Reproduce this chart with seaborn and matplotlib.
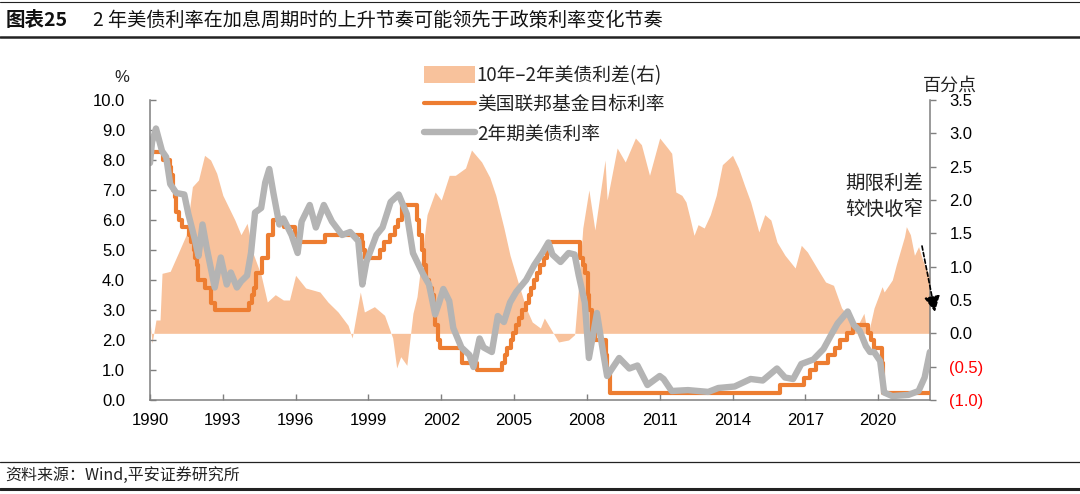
import matplotlib
matplotlib.use("Agg")
import matplotlib.pyplot as plt
import matplotlib.dates as mdates
from matplotlib.lines import Line2D
from matplotlib.patches import Patch
import matplotlib.ticker as mticker
import seaborn as sns
import pandas as pd

# ---------------- data ----------------
ff_dates = ["1990-01-01", "1990-07-13", "1990-10-29", "1990-11-13", "1990-12-07", "1991-01-09",
            "1991-02-01", "1991-03-08", "1991-04-30", "1991-08-06", "1991-09-13", "1991-10-31",
            "1991-11-06", "1991-12-06", "1991-12-20", "1992-04-09", "1992-07-02", "1992-09-04",
            "1994-02-04", "1994-03-22", "1994-04-18", "1994-05-17", "1994-08-16", "1994-11-15",
            "1995-02-01", "1995-07-06", "1995-12-19", "1996-01-31", "1997-03-25", "1998-09-29",
            "1998-10-15", "1998-11-17", "1999-06-30", "1999-08-24", "1999-11-16", "2000-02-02",
            "2000-03-21", "2000-05-16", "2001-01-03", "2001-01-31", "2001-03-20", "2001-04-18",
            "2001-05-15", "2001-06-27", "2001-08-21", "2001-09-17", "2001-10-02", "2001-11-06",
            "2001-12-11", "2002-11-06", "2003-06-25", "2004-06-30", "2004-08-10", "2004-09-21",
            "2004-11-10", "2004-12-14", "2005-02-02", "2005-03-22", "2005-05-03", "2005-06-30",
            "2005-08-09", "2005-09-20", "2005-11-01", "2005-12-13", "2006-01-31", "2006-03-28",
            "2006-05-10", "2006-06-29", "2007-09-18", "2007-10-31", "2007-12-11", "2008-01-22",
            "2008-01-30", "2008-03-18", "2008-04-30", "2008-10-08", "2008-10-29", "2008-12-16",
            "2015-12-16", "2016-12-14", "2017-03-15", "2017-06-14", "2017-12-13", "2018-03-21",
            "2018-06-13", "2018-09-26", "2018-12-19", "2019-07-31", "2019-09-18", "2019-10-30",
            "2020-03-03", "2020-03-15", "2022-02-18"]
ff_rate = [8.25, 8.00, 7.75, 7.50, 7.00, 6.75,
           6.25, 6.00, 5.75, 5.50, 5.25, 5.00,
           4.75, 4.50, 4.00, 3.75, 3.25, 3.00,
           3.25, 3.50, 3.75, 4.25, 4.75, 5.50,
           6.00, 5.75, 5.50, 5.25, 5.50, 5.25,
           5.00, 4.75, 5.00, 5.25, 5.50, 5.75,
           6.00, 6.50, 6.00, 5.50, 5.00, 4.50,
           4.00, 3.75, 3.50, 3.00, 2.50, 2.00,
           1.75, 1.25, 1.00, 1.25, 1.50, 1.75,
           2.00, 2.25, 2.50, 2.75, 3.00, 3.25,
           3.50, 3.75, 4.00, 4.25, 4.50, 4.75,
           5.00, 5.25, 4.75, 4.50, 4.25, 3.50,
           3.00, 2.25, 2.00, 1.50, 1.00, 0.25,
           0.50, 0.75, 1.00, 1.25, 1.50, 1.75,
           2.00, 2.25, 2.50, 2.25, 2.00, 1.75,
           1.25, 0.25, 0.25]

y2_dates = ["1990-01", "1990-02", "1990-04", "1990-07", "1990-09", "1990-11", "1991-02", "1991-06",
            "1991-08", "1991-11", "1992-01", "1992-03", "1992-05", "1992-09", "1992-12", "1993-03",
            "1993-05", "1993-08", "1993-10", "1994-01", "1994-03", "1994-05", "1994-08", "1994-10",
            "1994-12", "1995-02", "1995-05", "1995-07", "1995-11", "1996-02", "1996-04", "1996-08",
            "1996-11", "1997-03", "1997-07", "1997-12", "1998-04", "1998-08", "1998-10", "1998-12",
            "1999-05", "1999-08", "1999-12", "2000-04", "2000-08", "2000-11", "2001-04", "2001-07",
            "2001-10", "2001-12", "2002-02", "2002-05", "2002-07", "2002-11", "2003-03", "2003-05",
            "2003-08", "2003-10", "2004-02", "2004-05", "2004-08", "2004-11", "2005-02", "2005-07",
            "2005-11", "2006-03", "2006-06", "2006-08", "2006-12", "2007-04", "2007-07", "2007-09",
            "2007-12", "2008-02", "2008-06", "2008-09", "2008-11", "2008-12", "2009-05", "2009-10",
            "2010-02", "2010-07", "2011-01", "2011-03", "2011-07", "2012-03", "2013-01", "2013-06",
            "2014-02", "2014-10", "2015-04", "2015-11", "2016-03", "2016-07", "2016-11", "2017-05",
            "2017-10", "2018-02", "2018-05", "2018-10", "2019-01", "2019-04", "2019-07", "2019-09",
            "2019-11", "2020-02", "2020-04", "2020-08", "2021-04", "2021-09", "2021-12", "2022-02-18"]
y2_rate = [7.9, 8.6, 9.05, 8.3, 8.1, 7.2, 6.9, 6.85,
           6.2, 5.4, 4.8, 5.85, 5.1, 3.75, 4.75, 3.85,
           4.25, 3.75, 3.95, 4.15, 4.9, 6.25, 6.4, 7.25,
           7.7, 6.9, 5.85, 6.05, 5.5, 4.9, 5.95, 6.5,
           5.75, 6.5, 5.95, 5.5, 5.6, 5.3, 3.85, 4.6,
           5.5, 5.75, 6.6, 6.85, 6.2, 4.9, 4.2, 3.85,
           2.85, 3.25, 3.7, 3.3, 2.4, 1.75, 1.5, 1.1,
           2.05, 1.75, 1.6, 2.8, 2.6, 3.25, 3.6, 4.0,
           4.5, 4.9, 5.25, 4.85, 4.6, 4.9, 4.85, 4.15,
           3.25, 1.4, 2.9, 1.6, 0.8, 0.9, 1.4, 1.05,
           1.15, 0.5, 0.8, 0.7, 0.3, 0.33, 0.27, 0.4,
           0.45, 0.7, 0.65, 1.05, 0.75, 0.7, 1.2, 1.35,
           1.7, 2.2, 2.55, 2.95, 2.5, 2.3, 1.8, 1.6,
           1.6, 1.3, 0.25, 0.13, 0.17, 0.3, 0.75, 1.6]

sp_dates = ["1990-01", "1990-02", "1990-04", "1990-06", "1990-07", "1990-11", "1991-03", "1991-07",
            "1991-10", "1992-01", "1992-04", "1992-07", "1992-10", "1993-01", "1993-07", "1993-10",
            "1994-01", "1994-04", "1994-08", "1994-11", "1995-03", "1995-07", "1995-10", "1996-01",
            "1996-06", "1997-01", "1997-05", "1997-10", "1998-03", "1998-05", "1998-09", "1998-11",
            "1999-04", "1999-09", "2000-01", "2000-03", "2000-05", "2000-08", "2000-11", "2001-01",
            "2001-06", "2001-10", "2002-01", "2002-05", "2002-08", "2003-01", "2003-04", "2003-09",
            "2004-01", "2004-04", "2004-08", "2004-11", "2005-03", "2005-07", "2005-10", "2006-02",
            "2006-04", "2006-11", "2007-04", "2007-07", "2007-09", "2007-11", "2008-02", "2008-05",
            "2008-10", "2008-11", "2009-04", "2009-08", "2010-01", "2010-04", "2010-08", "2011-01",
            "2011-05", "2011-07", "2011-09", "2011-12", "2012-02", "2012-04", "2012-06", "2012-08",
            "2012-11", "2013-02", "2013-05", "2013-08", "2014-01", "2014-04", "2014-07", "2014-10",
            "2015-02", "2015-05", "2015-08", "2015-11", "2016-03", "2016-08", "2016-11", "2017-02",
            "2017-07", "2017-11", "2018-03", "2018-07", "2018-10", "2019-03", "2019-06", "2019-08",
            "2019-11", "2020-03", "2020-04", "2020-08", "2020-10", "2021-02", "2021-03", "2021-05",
            "2021-07", "2021-09", "2021-11", "2022-02-18"]
sp_val = [0.2, -0.15, 0.2, 0.2, 0.9, 0.93, 1.2, 1.48,
          2.2, 2.3, 2.67, 2.6, 2.4, 2.07, 1.7, 1.48,
          1.65, 1.2, 0.87, 0.47, 0.58, 0.5, 0.5, 0.87,
          0.68, 0.62, 0.47, 0.32, 0.12, -0.07, 0.62, 0.32,
          0.4, 0.27, -0.07, -0.52, -0.35, -0.48, 0.3, 0.55,
          1.78, 2.12, 2.0, 2.37, 2.37, 2.48, 2.75, 2.57,
          2.34, 2.07, 1.58, 1.17, 0.77, 0.38, 0.17, 0.08,
          0.23, -0.13, -0.1, -0.02, 0.73, 1.58, 2.15, 1.55,
          2.6, 2.0, 2.78, 2.57, 2.93, 2.83, 2.37, 2.93,
          2.78, 2.7, 2.12, 2.07, 1.97, 1.73, 1.47, 1.63,
          1.58, 1.78, 2.07, 2.53, 2.67, 2.48, 2.22, 1.97,
          1.52, 1.78, 1.7, 1.37, 1.17, 0.98, 1.32, 1.22,
          0.97, 0.77, 0.72, 0.38, 0.27, 0.12, 0.3, -0.03,
          0.38, 0.7, 0.62, 0.8, 1.03, 1.45, 1.6, 1.48,
          1.17, 1.3, 1.1, 0.85]

years_ticks = [1990, 1993, 1996, 1999, 2002, 2005, 2008, 2011, 2014, 2017, 2020]
left_ticks = [0, 1, 2, 3, 4, 5, 6, 7, 8, 9, 10]
right_ticks = [-1.0, -0.5, 0.0, 0.5, 1.0, 1.5, 2.0, 2.5, 3.0, 3.5]

legend_labels = ["10年\u20132年美债利差(右)", "美国联邦基金目标利率", "2年期美债利率"]

# ---------------- style ----------------
sns.set_theme(style="white")
plt.rcParams["font.family"] = ["Liberation Sans", "Noto Sans CJK SC", "DejaVu Sans"]
CJK = ["Noto Sans CJK SC", "DejaVu Sans"]

C_AREA = "#F8C29C"
C_FF = "#ED7D31"
C_Y2 = "#B4B4B4"
C_SPINE = "#7F7F7F"

ff = pd.DataFrame({"date": pd.to_datetime(ff_dates, format="ISO8601"), "rate": ff_rate})
y2 = pd.DataFrame({"date": pd.to_datetime(y2_dates, format="ISO8601"), "rate": y2_rate})
sp = pd.DataFrame({"date": pd.to_datetime(sp_dates, format="ISO8601"), "val": sp_val})

fig = plt.figure(figsize=(10.8, 4.94), dpi=100)
ax = fig.add_axes([150 / 1080, 1 - 400 / 494, 780 / 1080, 300 / 494])
ax2 = ax.twinx()

# area on right axis (behind)
ax2.fill_between(sp["date"], sp["val"], 0, color=C_AREA, linewidth=0)
ax2.set_ylim(-1.0, 3.5)
ax2.set_yticks(right_ticks)

def rfmt(v, pos):
    return f"({abs(v):.1f})" if v < 0 else f"{v:.1f}"
ax2.yaxis.set_major_formatter(mticker.FuncFormatter(rfmt))

# lines on left axis (front)
ax.set_zorder(ax2.get_zorder() + 1)
ax.patch.set_visible(False)
sns.lineplot(data=ff, x="date", y="rate", ax=ax, color=C_FF, linewidth=3.0,
             drawstyle="steps-post", legend=False)
sns.lineplot(data=y2, x="date", y="rate", ax=ax, color=C_Y2, linewidth=4.6, legend=False)

ax.set_ylim(0, 10)
ax.set_yticks(left_ticks)
ax.yaxis.set_major_formatter(mticker.FormatStrFormatter("%.1f"))
ax.set_xlim(pd.Timestamp("1990-01-01"), pd.Timestamp("2022-02-20"))
ax.set_xticks([pd.Timestamp(f"{y}-01-01") for y in years_ticks])
ax.xaxis.set_major_formatter(mdates.DateFormatter("%Y"))
ax.set_xlabel("")
ax.set_ylabel("")

for a in (ax, ax2):
    for s in a.spines.values():
        s.set_visible(False)
for s in ("left", "bottom"):
    ax.spines[s].set_visible(True)
    ax.spines[s].set_color(C_SPINE)
    ax.spines[s].set_linewidth(1.1)
ax2.spines["right"].set_visible(True)
ax2.spines["right"].set_color(C_SPINE)
ax2.spines["right"].set_linewidth(1.1)

ax.tick_params(axis="y", direction="in", length=4, width=1, color=C_SPINE,
               labelsize=12, pad=18, labelcolor="black", left=True)
ax.tick_params(axis="x", direction="in", length=4, width=1, color=C_SPINE,
               labelsize=12, pad=9, labelcolor="black", bottom=True)
ax2.tick_params(axis="y", direction="out", length=4, width=1, color=C_SPINE,
                labelsize=12, pad=10, labelcolor="black", right=True)
for lab, v in zip(ax2.get_yticklabels(), right_ticks):
    if v < 0:
        lab.set_color("#FF0000")

# axis unit labels
fig.text(122 / 1080, 1 - 77 / 494, "%", ha="center", va="center", fontsize=12, color="#222222")
fig.text(950 / 1080, 1 - 86 / 494, "百分点", ha="center", va="center", fontsize=13,
         family=CJK, color="#222222")

# legend
handles = [Patch(facecolor=C_AREA, edgecolor="none"),
           Line2D([0], [0], color=C_FF, lw=3.0),
           Line2D([0], [0], color=C_Y2, lw=4.6)]
leg = fig.legend(handles, legend_labels, loc="upper left",
                 bbox_to_anchor=(424 / 1080, 1 - 65 / 494), frameon=False,
                 prop={"family": CJK, "size": 13.5}, handlelength=2.7, handleheight=1.0,
                 handletextpad=0.12, labelspacing=0.44, borderpad=0, borderaxespad=0)
for t in leg.get_texts():
    t.set_color("#222222")

# annotation
fig.text(884 / 1080, 1 - 183 / 494, "期限利差", ha="center", va="center", fontsize=14,
         family=CJK, color="#222222", fontweight="light")
fig.text(884 / 1080, 1 - 209 / 494, "较快收窄", ha="center", va="center", fontsize=14,
         family=CJK, color="#222222", fontweight="light")
ax.annotate("", xy=(935 / 1080, 1 - 312 / 494), xytext=(922 / 1080, 1 - 246 / 494),
            xycoords="figure fraction", textcoords="figure fraction",
            arrowprops=dict(arrowstyle="-|>,head_length=0.8,head_width=0.4", linestyle=(0, (2.5, 1.5)),
                            color="black", lw=1.2, shrinkA=0, shrinkB=0))

# title & footer
fig.text(6 / 1080, 1 - 20 / 494, "图表25", ha="left", va="center", fontsize=14,
         family=CJK, fontweight="bold", color="#111111")
fig.text(93 / 1080, 1 - 20 / 494, "2 年美债利率在加息周期时的上升节奏可能领先于政策利率变化节奏",
         ha="left", va="center", fontsize=13.8, family=CJK, color="#111111")
fig.text(5 / 1080, 1 - 475 / 494, "资料来源：Wind,平安证券研究所", ha="left", va="center",
         fontsize=11.5, family=CJK, style="italic", color="#222222")

for yy, lw in ((2, 0.8), (37.5, 1.8), (462, 0.9), (489, 2.2)):
    fig.add_artist(Line2D([0, 1], [1 - yy / 494, 1 - yy / 494], transform=fig.transFigure,
                          color="#222222", lw=lw))

fig.savefig("out.png", dpi=100, facecolor="white")
